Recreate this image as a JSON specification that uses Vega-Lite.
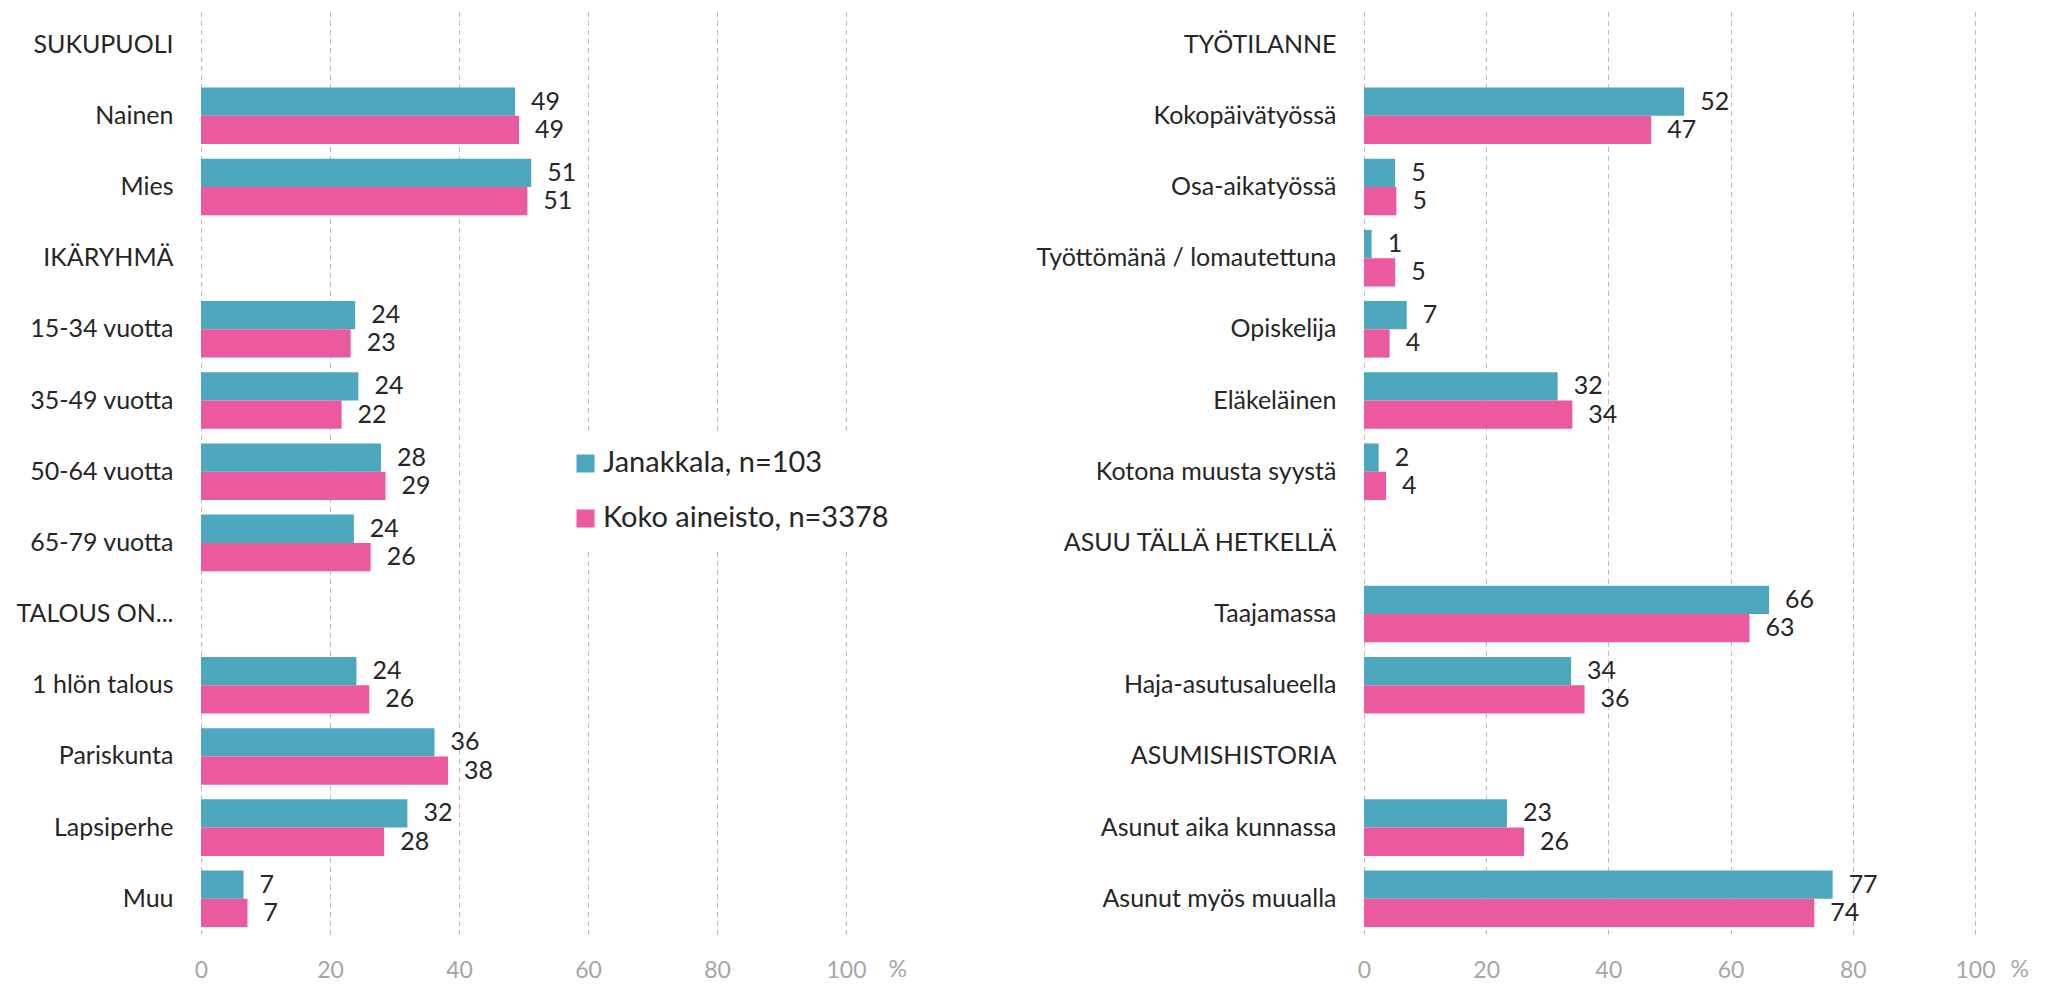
{
  "$schema": "https://vega.github.io/schema/vega-lite/v6.json",
  "background": "white",
  "padding": {"left": 1, "top": 9, "right": 5, "bottom": 5},
  "bounds": "flush",
  "spacing": 518,
  "config": {
    "font": "Lato",
    "view": {"stroke": null},
    "axisX": {
      "grid": true,
      "gridDash": [5, 4],
      "gridColor": "#bfbfbf",
      "gridWidth": 1,
      "domain": false,
      "ticks": false,
      "labelFontSize": 23,
      "labelColor": "#a6a6a6",
      "labelPadding": 25,
      "labelFlush": false,
      "titleFontSize": 23,
      "titleColor": "#a6a6a6",
      "titleFontWeight": "normal",
      "titleY": 35,
      "titleAlign": "left",
      "titleBaseline": "middle",
      "titleAngle": 0
    },
    "axisY": {
      "title": null,
      "grid": false,
      "domain": false,
      "ticks": false,
      "labelFontSize": 25,
      "labelColor": "#262626",
      "labelPadding": 28,
      "labelLimit": 400
    }
  },
  "datasets": {
    "left": [
      {"category": "Nainen", "group": "Janakkala, n=103", "value": 48.7},
      {"category": "Nainen", "group": "Koko aineisto, n=3378", "value": 49.3},
      {"category": "Mies", "group": "Janakkala, n=103", "value": 51.2},
      {"category": "Mies", "group": "Koko aineisto, n=3378", "value": 50.6},
      {"category": "15-34 vuotta", "group": "Janakkala, n=103", "value": 23.9},
      {"category": "15-34 vuotta", "group": "Koko aineisto, n=3378", "value": 23.2},
      {"category": "35-49 vuotta", "group": "Janakkala, n=103", "value": 24.4},
      {"category": "35-49 vuotta", "group": "Koko aineisto, n=3378", "value": 21.8},
      {"category": "50-64 vuotta", "group": "Janakkala, n=103", "value": 27.9},
      {"category": "50-64 vuotta", "group": "Koko aineisto, n=3378", "value": 28.6},
      {"category": "65-79 vuotta", "group": "Janakkala, n=103", "value": 23.7},
      {"category": "65-79 vuotta", "group": "Koko aineisto, n=3378", "value": 26.3},
      {"category": "1 hlön talous", "group": "Janakkala, n=103", "value": 24.1},
      {"category": "1 hlön talous", "group": "Koko aineisto, n=3378", "value": 26.1},
      {"category": "Pariskunta", "group": "Janakkala, n=103", "value": 36.2},
      {"category": "Pariskunta", "group": "Koko aineisto, n=3378", "value": 38.3},
      {"category": "Lapsiperhe", "group": "Janakkala, n=103", "value": 32.0},
      {"category": "Lapsiperhe", "group": "Koko aineisto, n=3378", "value": 28.4},
      {"category": "Muu", "group": "Janakkala, n=103", "value": 6.6},
      {"category": "Muu", "group": "Koko aineisto, n=3378", "value": 7.2}
    ],
    "right": [
      {"category": "Kokopäivätyössä", "group": "Janakkala, n=103", "value": 52.4},
      {"category": "Kokopäivätyössä", "group": "Koko aineisto, n=3378", "value": 47.0},
      {"category": "Osa-aikatyössä", "group": "Janakkala, n=103", "value": 5.1},
      {"category": "Osa-aikatyössä", "group": "Koko aineisto, n=3378", "value": 5.3},
      {"category": "Työttömänä / lomautettuna", "group": "Janakkala, n=103", "value": 1.25},
      {"category": "Työttömänä / lomautettuna", "group": "Koko aineisto, n=3378", "value": 5.1},
      {"category": "Opiskelija", "group": "Janakkala, n=103", "value": 7.0},
      {"category": "Opiskelija", "group": "Koko aineisto, n=3378", "value": 4.2},
      {"category": "Eläkeläinen", "group": "Janakkala, n=103", "value": 31.7},
      {"category": "Eläkeläinen", "group": "Koko aineisto, n=3378", "value": 34.1},
      {"category": "Kotona muusta syystä", "group": "Janakkala, n=103", "value": 2.4},
      {"category": "Kotona muusta syystä", "group": "Koko aineisto, n=3378", "value": 3.6},
      {"category": "Taajamassa", "group": "Janakkala, n=103", "value": 66.3},
      {"category": "Taajamassa", "group": "Koko aineisto, n=3378", "value": 63.1},
      {"category": "Haja-asutusalueella", "group": "Janakkala, n=103", "value": 33.9},
      {"category": "Haja-asutusalueella", "group": "Koko aineisto, n=3378", "value": 36.1},
      {"category": "Asunut aika kunnassa", "group": "Janakkala, n=103", "value": 23.4},
      {"category": "Asunut aika kunnassa", "group": "Koko aineisto, n=3378", "value": 26.2},
      {"category": "Asunut myös muualla", "group": "Janakkala, n=103", "value": 76.7},
      {"category": "Asunut myös muualla", "group": "Koko aineisto, n=3378", "value": 73.7}
    ]
  },
  "hconcat": [
    {
      "width": 645,
      "height": 925.4,
      "data": {"name": "left"},
      "encoding": {
        "y": {
          "field": "category",
          "type": "nominal",
          "sort": null,
          "scale": {
            "domain": ["SUKUPUOLI", "Nainen", "Mies", "IKÄRYHMÄ", "15-34 vuotta", "35-49 vuotta", "50-64 vuotta", "65-79 vuotta", "TALOUS ON...", "1 hlön talous", "Pariskunta", "Lapsiperhe", "Muu"],
            "paddingInner": 0.206,
            "paddingOuter": 0.103
          },
          "axis": {"minExtent": 200, "maxExtent": 200}
        },
        "yOffset": {
          "field": "group",
          "type": "nominal",
          "sort": null,
          "scale": {"domain": ["Janakkala, n=103", "Koko aineisto, n=3378"]}
        },
        "x": {
          "field": "value",
          "type": "quantitative",
          "scale": {"domain": [0, 100], "nice": false},
          "axis": {"title": "%", "titleX": 687, "values": [0, 20, 40, 60, 80, 100]}
        }
      },
      "layer": [
        {
          "mark": {"type": "bar"},
          "encoding": {
            "color": {
              "field": "group",
              "type": "nominal",
              "scale": {"domain": ["Janakkala, n=103", "Koko aineisto, n=3378"], "range": ["#4da8bd", "#eb5a9e"]},
              "legend": {
                "title": null,
                "orient": "none",
                "legendX": 356,
                "legendY": 426,
                "direction": "vertical",
                "fillColor": "white",
                "padding": 14,
                "rowPadding": 25,
                "labelFontSize": 29,
                "labelColor": "#262626",
                "labelOffset": 3,
                "labelLimit": 500,
                "symbolType": "square",
                "symbolSize": 324,
                "symbolStrokeWidth": 0,
                "symbolOpacity": 1
              }
            }
          }
        },
        {
          "mark": {"type": "text", "align": "left", "baseline": "middle", "dx": 16, "fontSize": 25, "color": "#262626"},
          "encoding": {"text": {"field": "value", "type": "quantitative", "format": ".0f"}}
        }
      ]
    },
    {
      "width": 611,
      "height": 925.4,
      "data": {"name": "right"},
      "encoding": {
        "y": {
          "field": "category",
          "type": "nominal",
          "sort": null,
          "scale": {
            "domain": ["TYÖTILANNE", "Kokopäivätyössä", "Osa-aikatyössä", "Työttömänä / lomautettuna", "Opiskelija", "Eläkeläinen", "Kotona muusta syystä", "ASUU TÄLLÄ HETKELLÄ", "Taajamassa", "Haja-asutusalueella", "ASUMISHISTORIA", "Asunut aika kunnassa", "Asunut myös muualla"],
            "paddingInner": 0.206,
            "paddingOuter": 0.103
          }
        },
        "yOffset": {
          "field": "group",
          "type": "nominal",
          "sort": null,
          "scale": {"domain": ["Janakkala, n=103", "Koko aineisto, n=3378"]}
        },
        "x": {
          "field": "value",
          "type": "quantitative",
          "scale": {"domain": [0, 100], "nice": false},
          "axis": {"title": "%", "titleX": 646, "values": [0, 20, 40, 60, 80, 100]}
        }
      },
      "layer": [
        {
          "mark": {"type": "bar"},
          "encoding": {
            "color": {
              "field": "group",
              "type": "nominal",
              "scale": {"domain": ["Janakkala, n=103", "Koko aineisto, n=3378"], "range": ["#4da8bd", "#eb5a9e"]}
            }
          }
        },
        {
          "mark": {"type": "text", "align": "left", "baseline": "middle", "dx": 16, "fontSize": 25, "color": "#262626"},
          "encoding": {"text": {"field": "value", "type": "quantitative", "format": ".0f"}}
        }
      ]
    }
  ]
}
